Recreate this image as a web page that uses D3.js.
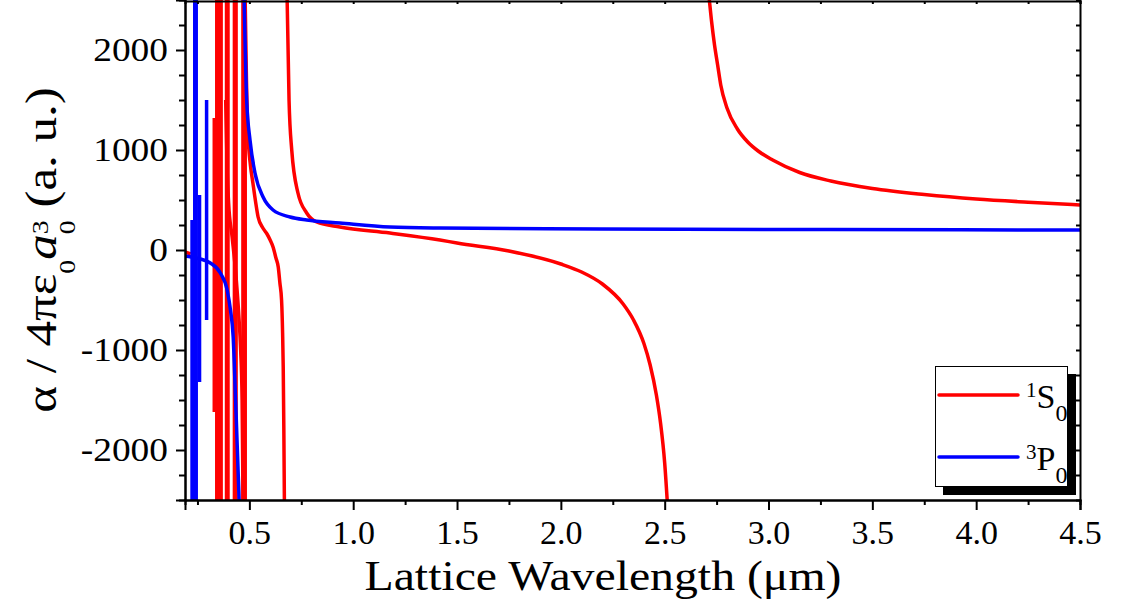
<!DOCTYPE html>
<html>
<head>
<meta charset="utf-8">
<script src="https://cdn.jsdelivr.net/npm/d3@7"></script>
<style>
  body { margin: 0; background: #fff; }
  svg { display: block; }
  text { font-family: "Liberation Serif", "Times New Roman", serif; fill: #000; }
</style>
</head>
<body>
<svg id="chart" width="1122" height="613"></svg>
<script>
// Lattice wavelength in µm, dynamic polarizability in atomic units.
const xMajorTicks = [0.5, 1.0, 1.5, 2.0, 2.5, 3.0, 3.5, 4.0, 4.5];
const xMinorTicks = [0.25, 0.75, 1.25, 1.75, 2.25, 2.75, 3.25, 3.75, 4.25];
const yMajorTicks = [-2000, -1000, 0, 1000, 2000];
const yMinorTicks = [-2250, -1750, -1500, -1250, -750, -500, -250, 250, 500, 750, 1250, 1500, 1750, 2250];

const seriesColors = ["#ff0000", "#0000ff"];

// 1S0: smooth branches between resonances
const s0BranchA = [[0.190, -20], [0.217, -40]];
const s0BranchB = [[0.386, 1500], [0.393, 800], [0.400, 470], [0.417, 130], [0.433, -200], [0.449, -650], [0.458, -1000], [0.465, -1500], [0.470, -2600]];
const s0BranchC = [[0.479, 2600], [0.486, 1700], [0.493, 1170], [0.505, 850], [0.517, 670], [0.530, 480], [0.542, 330], [0.565, 220], [0.585, 160], [0.600, 100], [0.614, 30], [0.628, -80], [0.639, -170], [0.647, -330], [0.655, -500], [0.660, -830], [0.663, -1170], [0.666, -1800], [0.669, -2600]];
const s0BranchD = [[0.681, 2600], [0.691, 1500], [0.704, 1000], [0.734, 570], [0.776, 370], [0.824, 280], [0.936, 230], [1.177, 170], [1.418, 100], [1.500, 70], [1.750, -10], [2.000, -140], [2.100, -220], [2.200, -340], [2.300, -540], [2.350, -700], [2.400, -935], [2.430, -1150], [2.460, -1450], [2.480, -1730], [2.500, -2130], [2.515, -2600]];
const s0BranchE = [[2.710, 2600], [2.725, 2300], [2.740, 2050], [2.755, 1850], [2.770, 1650], [2.800, 1420], [2.850, 1210], [2.900, 1080], [2.950, 990], [3.020, 900], [3.150, 775], [3.300, 690], [3.500, 615], [3.750, 555], [4.000, 510], [4.250, 478], [4.500, 450]];
// 1S0: narrow resonances in the UV / blue
const s0Spikes = [
  [[0.331, 1320], [0.331, -1620]],
  [[0.343, 2600], [0.343, -2600]],
  [[0.354, 2600], [0.354, -2600]],
  [[0.364, 2600], [0.364, -2600]],
  [[0.390, 2600], [0.390, -2600]],
  [[0.397, 2600], [0.397, -2600]],
  [[0.428, 2600], [0.428, -2600]],
  [[0.436, 2600], [0.436, -2600]],
  [[0.469, 2600], [0.469, -2600]],
  [[0.480, 2600], [0.480, -2600]]
];

// 3P0: smooth branches between resonances
const p0BranchA = [[0.190, -60], [0.220, -70], [0.264, -90], [0.312, -130], [0.360, -230], [0.393, -400], [0.409, -600], [0.422, -870], [0.433, -1470], [0.449, -2400], [0.452, -2600]];
const p0BranchB = [[0.474, 2600], [0.487, 1500], [0.503, 1100], [0.527, 770], [0.566, 530], [0.614, 400], [0.696, 330], [0.776, 300], [0.936, 270], [1.177, 230], [1.418, 220], [2.188, 210], [3.300, 204], [4.500, 200]];
// 3P0: narrow resonances in the UV
const p0Spikes = [
  [[0.224, 300], [0.224, -2600]],
  [[0.237, 2600], [0.237, -2600]],
  [[0.244, 2600], [0.244, -2600]],
  [[0.260, 550], [0.260, -1320]],
  [[0.294, 1500], [0.294, -700]]
];

const s0Branches = [s0BranchA, s0BranchB, s0BranchC, s0BranchD, s0BranchE];
const p0Branches = [p0BranchA, p0BranchB];

const svg = d3.select("#chart");
const plot = { left: 185, right: 1080, top: 0, bottom: 500 };

const x = d3.scaleLinear().domain([0.19, 4.5]).range([plot.left, plot.right]);
const y = d3.scaleLinear().domain([-2500, 2500]).range([plot.bottom, plot.top]);

svg.append("defs").append("clipPath").attr("id", "plotClip")
  .append("rect")
  .attr("x", plot.left).attr("y", plot.top)
  .attr("width", plot.right - plot.left).attr("height", plot.bottom - plot.top);

const smooth = d3.line().x(d => x(d[0])).y(d => y(d[1])).curve(d3.curveMonotoneX);
const straight = d3.line().x(d => x(d[0])).y(d => y(d[1]));

const curves = svg.append("g").attr("clip-path", "url(#plotClip)")
  .attr("fill", "none").attr("stroke-width", 3.5).attr("stroke-linejoin", "round");

function drawSeries(branches, spikes, color) {
  const g = curves.append("g").attr("stroke", color);
  g.selectAll("path.branch").data(branches).join("path").attr("class", "branch").attr("d", smooth);
  g.selectAll("path.spike").data(spikes).join("path").attr("class", "spike").attr("d", straight);
}
drawSeries(s0Branches, s0Spikes, seriesColors[0]);
drawSeries(p0Branches, p0Spikes, seriesColors[1]);

// Axes
const axisStroke = 2;

const bottomMajor = d3.axisBottom(x).tickValues(xMajorTicks).tickSize(10).tickFormat(d3.format(".1f")).tickPadding(10);
const bottomMinor = d3.axisBottom(x).tickValues(xMinorTicks).tickSize(5).tickFormat("");
const leftMajor = d3.axisLeft(y).tickValues(yMajorTicks).tickSize(9).tickPadding(8)
  .tickFormat(d => d < 0 ? "-" + Math.abs(d) : String(d));
const leftMinor = d3.axisLeft(y).tickValues(yMinorTicks).tickSize(6).tickFormat("");
const topTicks = d3.axisBottom(x).tickValues(xMajorTicks.concat(xMinorTicks)).tickSize(3).tickFormat("");
const rightTicks = d3.axisLeft(y).tickValues(yMajorTicks.concat(yMinorTicks)).tickSize(4).tickFormat("");

function styleAxis(g) {
  g.selectAll("path.domain").attr("stroke", "#000").attr("stroke-width", axisStroke);
  g.selectAll(".tick line").attr("stroke", "#000").attr("stroke-width", axisStroke);
}

svg.append("g").attr("transform", `translate(0,${plot.top + 1})`).call(topTicks).call(styleAxis);
svg.append("g").attr("transform", `translate(${plot.right},0)`).call(rightTicks).call(styleAxis);

const gx = svg.append("g").attr("transform", `translate(0,${plot.bottom})`);
gx.append("g").call(bottomMinor).call(styleAxis);
gx.append("g").call(bottomMajor).call(styleAxis)
  .selectAll(".tick text").attr("font-size", 34).attr("font-family", "Liberation Serif").attr("fill", "#000");

const gy = svg.append("g").attr("transform", `translate(${plot.left},0)`);
gy.append("g").call(leftMinor).call(styleAxis);
gy.append("g").call(leftMajor).call(styleAxis)
  .selectAll(".tick text")
  .attr("font-size", 34).attr("font-family", "Liberation Serif").attr("fill", "#000")
  .attr("x", -17 / 1.1).attr("transform", "scale(1.1,1)");

// Axis titles
svg.append("text")
  .attr("x", 603).attr("y", 590)
  .attr("text-anchor", "middle").attr("font-size", 42.5)
  .attr("textLength", 477).attr("lengthAdjust", "spacingAndGlyphs")
  .text("Lattice Wavelength (\u03bcm)");

const yTitle = svg.append("text")
  .attr("transform", "translate(56,250) rotate(-90) scale(1.16,1)")
  .attr("text-anchor", "middle").attr("font-size", 44);
yTitle.append("tspan").text("\u03b1 / 4\u03c0\u03b5");
yTitle.append("tspan").attr("font-size", 24).attr("dy", 19).text("0");
yTitle.append("tspan").attr("font-style", "italic").attr("dy", -19).text("a");
yTitle.append("tspan").attr("font-size", 24).attr("dy", 19).text("0");
yTitle.append("tspan").attr("font-size", 24).attr("dx", -12).attr("dy", -27).text("3");
yTitle.append("tspan").attr("dy", 8).text(" (a. u.)");

// Legend
const legend = svg.append("g");
legend.append("rect").attr("x", 943).attr("y", 374).attr("width", 133).attr("height", 121).attr("fill", "#000");
legend.append("rect").attr("x", 935.5).attr("y", 366.5).attr("width", 132).attr("height", 120)
  .attr("fill", "#fff").attr("stroke", "#000").attr("stroke-width", 1);

const legendRows = [
  { sup: "1", main: "S", sub: "0", color: seriesColors[0], ly: 395, base: 408 },
  { sup: "3", main: "P", sub: "0", color: seriesColors[1], ly: 457, base: 470 }
];
legendRows.forEach(r => {
  legend.append("line").attr("x1", 939).attr("x2", 1018).attr("y1", r.ly).attr("y2", r.ly)
    .attr("stroke", r.color).attr("stroke-width", 3.5).attr("stroke-linecap", "round");
  const t = legend.append("text").attr("x", 1026).attr("y", r.base - 11).attr("font-size", 21);
  t.append("tspan").text(r.sup);
  t.append("tspan").attr("dy", 11).attr("font-size", 34).text(r.main);
  t.append("tspan").attr("dy", 13).attr("font-size", 24).text(r.sub);
});
</script>
</body>
</html>
